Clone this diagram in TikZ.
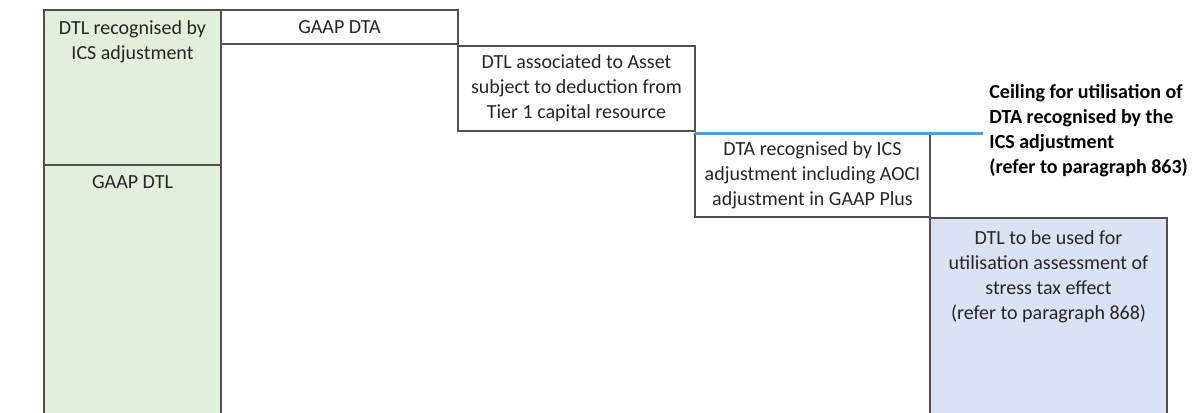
\documentclass[tikz,border=0pt]{standalone}
\usepackage{fontspec}
\setmainfont{Carlito}
\usepackage{tikz}
\usetikzlibrary{positioning}
\definecolor{dtlgreen}{HTML}{E2EFDA}
\definecolor{dtlblue}{HTML}{DAE3F3}
\definecolor{edgegray}{HTML}{505050}
\definecolor{ceilblue}{HTML}{5B9BD5}
\tikzstyle{block}=[rectangle, draw=edgegray, line width=0.6pt, inner sep=1pt, outer sep=0pt, align=center, text=black!85, font=\fontsize{10}{12.5}\selectfont, minimum width=118.5pt]
\tikzstyle{column}=[block, minimum width=88.5pt, fill=dtlgreen]
\tikzstyle{toptext}=[anchor=north, align=center, inner sep=0pt, yshift=-5pt, text=black!85, font=\fontsize{10}{12.5}\selectfont]
\tikzstyle{ceiling}=[draw=ceilblue, line width=1.5pt]
\tikzstyle{ceiltext}=[align=left, inner sep=0pt, font=\fontsize{10}{12.5}\selectfont\bfseries]

\begin{document}
\begin{tikzpicture}[x=0.5pt, y=-0.5pt]
          \useasboundingbox (0,0) rectangle (1203,412);
          % green column
          \node[column, anchor=north west, minimum height=77.5pt] (dtlics) at (44,10)
                [label={[toptext]north:DTL recognised by\\ICS adjustment}] {};
          \node[column, below=0pt of dtlics, minimum height=125pt] (gaapdtl)
                [label={[toptext]north:GAAP DTL}] {};

          % staircase
          \node[block, minimum height=17pt, below right=0pt and 0pt of dtlics.north east] (gaapdta) {GAAP DTA};
          \node[block, minimum height=42.5pt, below right=1pt and 0pt of gaapdta.south east] (dtlassoc)
                {DTL associated to Asset\\subject to deduction from\\Tier 1 capital resource};
          \node[block, minimum width=117.5pt, minimum height=41.5pt, below right=1.5pt and 0pt of dtlassoc.south east] (dtarec)
                {DTA recognised by ICS\\adjustment including AOCI\\adjustment in GAAP Plus};
          \node[block, fill=dtlblue, minimum height=98.5pt, below right=0.5pt and 0pt of dtarec.south east] (stressdtl)
                [label={[toptext, yshift=-1pt]north:DTL to be used for\\utilisation assessment of\\stress tax effect\\(refer to paragraph 868)}] {};

          % ceiling line
          \coordinate (ceilend) at (983,133);
          \draw[ceiling] (ceilend -| dtarec.west) -- (ceilend);
          \node[ceiltext, right=3pt of ceilend, yshift=1.25pt] (ceiltxt)
                {Ceiling for utilisation of\\DTA recognised by the\\ICS adjustment\\(refer to paragraph 863)};
        \end{tikzpicture}
\end{document}
